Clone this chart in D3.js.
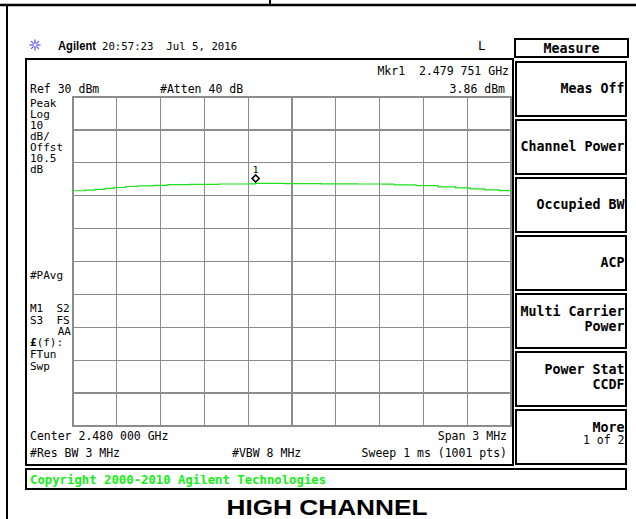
<!DOCTYPE html>
<html>
<head>
    <meta charset="utf-8">
    <style>
        body { margin: 0; background: #fff; }
        text { white-space: pre; }
        .mono { font: 11.5px "DejaVu Sans Mono", monospace; fill: #000; }
        .side { font: 11px "DejaVu Sans Mono", monospace; fill: #000; }
        .key { font: bold 13.3px "DejaVu Sans Mono", monospace; fill: #000; }
        .grid line { stroke: #8c8c8c; stroke-width: 1.3; shape-rendering: crispEdges; }
    </style>
    <title>Spectrum - High Channel</title>
    <script src="https://d3js.org/d3.v7.min.js"></script>
</head>
<body>
    <script>
    // trace (frequency in MHz, level in dBm)
    var traceFreqs = [2478.50, 2478.58, 2478.65, 2478.72, 2478.78, 2478.86, 2478.94, 2479.05,
                      2479.15, 2479.30, 2479.50, 2479.70, 2479.75, 2479.95, 2480.20, 2480.45,
                      2480.62, 2480.70, 2480.85, 2481.00, 2481.12, 2481.22, 2481.32, 2481.42, 2481.50];
    var traceLevels = [1.5, 1.7, 1.9, 2.2, 2.5, 2.8, 3.0, 3.15,
                       3.35, 3.45, 3.55, 3.6, 3.75, 3.7, 3.6, 3.55,
                       3.5, 3.3, 3.05, 2.7, 2.35, 2.1, 1.8, 1.55, 1.2];

    // marker 1
    var markerFreq = 2479.751,
        markerLevel = 3.86;

    // screen settings
    var centerFreq = 2480.0, spanMHz = 3, refLevel = 30, dbPerDiv = 10, divisions = 10;

    // side labels
    var leftLabels = ["Peak", "Log", "10", "dB/", "Offst", "10.5", "dB"];
    var statusLabels = ["M1  S2", "S3  FS"];
    var tuneLabels = ["FTun", "Swp"];

    // softkey menu
    var softkeys = [["Meas Off"], ["Channel Power"], ["Occupied BW"], ["ACP"],
                    ["Multi Carrier", "Power"], ["Power Stat", "CCDF"], ["More", "1 of 2"]];

    var svg = d3.select("body").append("svg")
        .attr("width", 636)
        .attr("height", 519);

    // scales for the graticule
    var x = d3.scaleLinear()
        .domain([centerFreq - spanMHz / 2, centerFreq + spanMHz / 2])
        .range([73, 511]);
    var y = d3.scaleLinear()
        .domain([refLevel - dbPerDiv * divisions, refLevel])
        .range([426, 97]);

    // outer table frame
    svg.append("line").attr("x1", 0).attr("x2", 636).attr("y1", 5).attr("y2", 5)
        .attr("stroke", "#000").attr("stroke-width", 2.5);
    svg.append("line").attr("x1", 270).attr("x2", 270).attr("y1", 0).attr("y2", 5)
        .attr("stroke", "#000").attr("stroke-width", 2);
    svg.append("line").attr("x1", 7).attr("x2", 7).attr("y1", 5).attr("y2", 519)
        .attr("stroke", "#000").attr("stroke-width", 2);

    // header: sparkle logo, name, date
    var star = svg.append("g").attr("transform", "translate(35,45)");
    d3.range(8).forEach(function(i) {
        var a = i * Math.PI / 4;
        star.append("line")
            .attr("x1", Math.cos(a) * 2).attr("y1", Math.sin(a) * 2)
            .attr("x2", Math.cos(a) * 5.5).attr("y2", Math.sin(a) * 5.5)
            .attr("stroke", "#5a5aff").attr("stroke-width", 1.3);
    });
    star.append("circle").attr("r", 2).attr("fill", "none").attr("stroke", "#8080ff").attr("stroke-width", 1);

    svg.append("text").attr("x", 58).attr("y", 50)
        .attr("textLength", 38).attr("lengthAdjust", "spacingAndGlyphs")
        .style("font", "bold 12.5px 'Liberation Sans', Arial, sans-serif")
        .text("Agilent");
    svg.append("text").attr("class", "mono").attr("x", 102).attr("y", 50)
        .style("font-size", "10.7px")
        .text("20:57:23  Jul 5, 2016");
    svg.append("text").attr("class", "mono").attr("x", 478).attr("y", 50)
        .style("font-size", "12.5px").text("L");

    // graph panel
    svg.append("rect").attr("x", 26).attr("y", 59).attr("width", 487).attr("height", 406)
        .attr("fill", "none").attr("stroke", "#000").attr("stroke-width", 2);

    svg.append("text").attr("class", "mono").attr("x", 509).attr("y", 75)
        .attr("text-anchor", "end").text("Mkr1  2.479 751 GHz");
    svg.append("text").attr("class", "mono").attr("x", 30).attr("y", 93).text("Ref 30 dBm");
    svg.append("text").attr("class", "mono").attr("x", 160).attr("y", 93).text("#Atten 40 dB");
    svg.append("text").attr("class", "mono").attr("x", 505).attr("y", 93)
        .attr("text-anchor", "end").text(markerLevel.toFixed(2) + " dBm");

    // graticule
    var grid = svg.append("g").attr("class", "grid");
    grid.selectAll(".v").data(d3.range(divisions + 1)).enter().append("line")
        .attr("x1", function(i) { return x(x.domain()[0] + i * spanMHz / divisions); })
        .attr("x2", function(i) { return x(x.domain()[0] + i * spanMHz / divisions); })
        .attr("y1", y(refLevel)).attr("y2", y(refLevel - dbPerDiv * divisions));
    grid.selectAll(".h").data(d3.range(divisions + 1)).enter().append("line")
        .attr("x1", x.range()[0]).attr("x2", x.range()[1])
        .attr("y1", function(i) { return y(refLevel - i * dbPerDiv); })
        .attr("y2", function(i) { return y(refLevel - i * dbPerDiv); });
    svg.append("rect")
        .attr("x", x.range()[0]).attr("y", y(refLevel))
        .attr("width", x.range()[1] - x.range()[0])
        .attr("height", y(refLevel - dbPerDiv * divisions) - y(refLevel))
        .attr("fill", "none").attr("stroke", "#8c8c8c").attr("stroke-width", 2);

    // left column annotations
    svg.selectAll(".left").data(leftLabels).enter().append("text")
        .attr("class", "side").attr("x", 30)
        .attr("y", function(d, i) { return 107 + i * 11; })
        .text(function(d) { return d; });
    svg.append("text").attr("class", "side").attr("x", 30).attr("y", 279).text("#PAvg");
    svg.selectAll(".status").data(statusLabels).enter().append("text")
        .attr("class", "side").attr("x", 30)
        .attr("y", function(d, i) { return 312 + i * 11.5; })
        .text(function(d) { return d; });
    svg.append("text").attr("class", "side").attr("x", 71).attr("y", 335)
        .attr("text-anchor", "end").text("AA");
    var ef = svg.append("text").attr("class", "side").attr("x", 30).attr("y", 346);
    ef.append("tspan").style("font-weight", "bold").text("\u00a3");
    ef.append("tspan").text("(f):");
    svg.selectAll(".tune").data(tuneLabels).enter().append("text")
        .attr("class", "side").attr("x", 30)
        .attr("y", function(d, i) { return 358 + i * 12; })
        .text(function(d) { return d; });

    // trace
    var line = d3.line()
        .curve(d3.curveStepAfter)
        .x(function(d, i) { return x(traceFreqs[i]); })
        .y(function(d) { return y(d); });
    svg.append("path")
        .datum(traceLevels)
        .attr("d", line)
        .attr("fill", "none")
        .attr("stroke", "#1fe01f")
        .attr("stroke-width", 1.2);

    // marker diamond sits just above the trace point
    var mx = x(markerFreq), my = y(markerLevel);
    svg.append("path")
        .attr("d", "M" + mx + "," + (my - 1) + "l3.5,-3.5l-3.5,-3.5l-3.5,3.5z")
        .attr("fill", "#fff").attr("stroke", "#000").attr("stroke-width", 1.6);
    svg.append("text").attr("x", mx).attr("y", my - 10).attr("text-anchor", "middle")
        .style("font", "9.5px 'DejaVu Sans Mono', monospace").text("1");

    // bottom annotations
    svg.append("text").attr("class", "mono").attr("x", 30).attr("y", 440)
        .text("Center 2.480 000 GHz");
    svg.append("text").attr("class", "mono").attr("x", 507).attr("y", 440)
        .attr("text-anchor", "end").text("Span 3 MHz");
    svg.append("text").attr("class", "mono").attr("x", 30).attr("y", 457)
        .text("#Res BW 3 MHz");
    svg.append("text").attr("class", "mono").attr("x", 232).attr("y", 457)
        .text("#VBW 8 MHz");
    svg.append("text").attr("class", "mono").attr("x", 507).attr("y", 457)
        .attr("text-anchor", "end").text("Sweep 1 ms (1001 pts)");

    // softkey menu
    svg.append("rect").attr("x", 515).attr("y", 39).attr("width", 113).attr("height", 18)
        .attr("fill", "none").attr("stroke", "#000").attr("stroke-width", 2);
    svg.append("text").attr("class", "key").attr("x", 571.5).attr("y", 52.5)
        .attr("text-anchor", "middle").text("Measure");

    var keys = svg.selectAll(".softkey").data(softkeys).enter().append("g")
        .attr("transform", function(d, i) { return "translate(516," + (62 + i * 58) + ")"; });
    keys.append("rect").attr("width", 110).attr("height", 54)
        .attr("fill", "none").attr("stroke", "#000").attr("stroke-width", 2);
    keys.each(function(d, i) {
        var g = d3.select(this);
        if (d.length == 1) {
            g.append("text").attr("class", "key").attr("x", 108.5).attr("y", 31)
                .attr("text-anchor", "end").text(d[0]);
        } else {
            g.append("text").attr("class", "key").attr("x", 108.5).attr("y", 22)
                .attr("text-anchor", "end").text(d[0]);
            // last key shows a page counter in plain type
            g.append("text").attr("class", i == softkeys.length - 1 ? "mono" : "key")
                .attr("x", 108.5).attr("y", i == softkeys.length - 1 ? 34 : 37)
                .attr("text-anchor", "end").text(d[1]);
        }
    });

    // copyright strip
    svg.append("rect").attr("x", 26).attr("y", 469).attr("width", 600).attr("height", 20)
        .attr("fill", "none").attr("stroke", "#000").attr("stroke-width", 2);
    svg.append("text").attr("x", 30).attr("y", 483.5)
        .style("font", "bold 12.3px 'DejaVu Sans Mono', monospace")
        .attr("fill", "#14f014")
        .text("Copyright 2000-2010 Agilent Technologies");

    // caption
    svg.append("text").attr("x", 327).attr("y", 515)
        .attr("text-anchor", "middle")
        .attr("textLength", 201).attr("lengthAdjust", "spacingAndGlyphs")
        .style("font", "bold 22px 'Liberation Sans', Arial, sans-serif")
        .text("HIGH CHANNEL");
    </script>
</body>
</html>
